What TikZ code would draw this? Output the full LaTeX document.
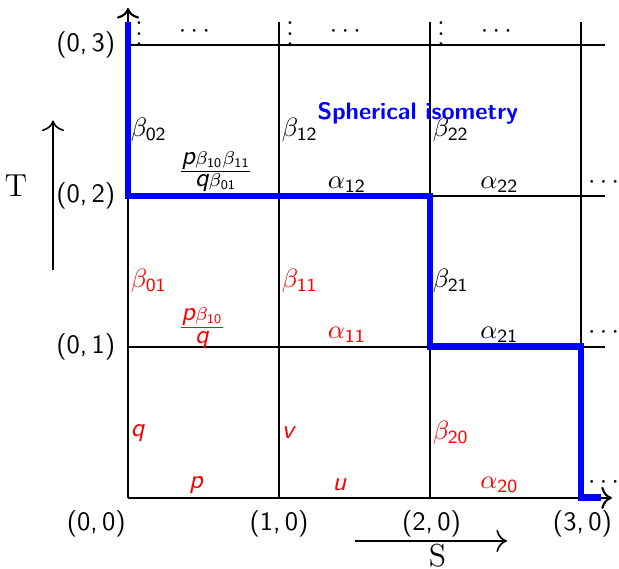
\documentclass[tikz,border=0pt]{standalone}
\usetikzlibrary{arrows.meta}
\newcommand{\sfi}[1]{\mbox{\sffamily\itshape #1}}
\begin{document}
\begin{tikzpicture}[x=2cm,y=2cm,
  gridline/.style={line width=0.8pt},
  spath/.style={blue, line width=2.6pt},
  lab/.style={anchor=west, inner sep=0pt},
  mid/.style={inner sep=1pt},
  rlab/.style={text=red},
  coord/.style={font=\sffamily, inner sep=1pt},
  ax/.style={line width=0.6pt, -{To[length=4pt]}}
]
\useasboundingbox (-0.848,-0.470) rectangle (3.252,3.298);
% grid coordinates
\foreach \i in {0,1,2,3}{
  \coordinate (b\i) at (\i,0);
  \coordinate (t\i) at (\i,3.15);
}
\foreach \j in {1,2,3}{
  \coordinate (l\j) at (0,\j);
  \coordinate (r\j) at (3.16,\j);
}
\coordinate (ytop) at (0,3.245);
\coordinate (xend) at (3.205,0);
% grid
\foreach \i in {1,2,3}{\draw[gridline] (b\i) -- (t\i);}
\foreach \j in {1,2,3}{\draw[gridline] (l\j) -- (r\j);}
% axes
\draw[gridline,-{To[length=4pt]}] (b0) -- (ytop);
\draw[gridline,-{To[length=4pt]}] (b0) -- (xend);
% dots
\foreach \i in {0,1,2}{
  \node[inner sep=0pt] (vd\i) at (\i+0.073,3.126) {$\vdots$};
  \node[inner sep=0pt] (hd\i) at (\i+0.44,3.09) {$\cdots$};
}
\foreach \j/\yy in {0/0.099,1/1.093,2/2.086}{
  \node[inner sep=0pt] (rd\j) at (3.15,\yy) {$\cdots$};
}
% blue path
\coordinate (p0) at (0,3.15);
\coordinate (p1) at (0,2);
\coordinate (p2) at (2,2);
\coordinate (p3) at (2,1);
\coordinate (p4) at (3,1);
\coordinate (p5) at (3,0);
\coordinate (p6) at (3.13,0);
\draw[spath] (p0) -- (p1) -- (p2) -- (p3) -- (p4) -- (p5) -- (p6);
% title
\node[text=blue, font=\small\sffamily\bfseries, inner sep=0pt] (title) at (1.92,2.55) {Spherical isometry};
% labels row 3
\node[lab] (b02) at (0.015,2.44) {$\beta_{\mathsf{02}}$};
\node[lab] (b12) at (1.015,2.44) {$\beta_{\mathsf{12}}$};
\node[lab] (b22) at (2.015,2.44) {$\beta_{\mathsf{22}}$};
\node[mid] (f2) at (0.58,2.16) {$\frac{\sfi{p}\beta_{\mathsf{10}}\beta_{\mathsf{11}}}{\sfi{q}\beta_{\mathsf{01}}}$};
\node[mid] (a12) at (1.45,2.075) {$\alpha_{\mathsf{12}}$};
\node[mid] (a22) at (2.46,2.075) {$\alpha_{\mathsf{22}}$};
% row 2
\node[lab,rlab] (b01) at (0.015,1.44) {$\beta_{\mathsf{01}}$};
\node[lab,rlab] (b11) at (1.015,1.44) {$\beta_{\mathsf{11}}$};
\node[lab] (b21) at (2.015,1.44) {$\beta_{\mathsf{21}}$};
\node[mid,rlab] (f1) at (0.49,1.125) {$\frac{\sfi{p}\beta_{\mathsf{10}}}{\sfi{q}}$};
\node[mid,rlab] (a11) at (1.45,1.08) {$\alpha_{\mathsf{11}}$};
\node[mid] (a21) at (2.46,1.08) {$\alpha_{\mathsf{21}}$};
% row 1
\node[lab,rlab] (q) at (0.015,0.43) {\sfi{q}};
\node[lab,rlab] (v) at (1.015,0.43) {\sfi{v}};
\node[lab,rlab] (b20) at (2.015,0.43) {$\beta_{\mathsf{20}}$};
\node[mid,rlab] (p) at (0.45,0.085) {\sfi{p}};
\node[mid,rlab] (u) at (1.4,0.085) {\sfi{u}};
\node[mid,rlab] (a20) at (2.46,0.085) {$\alpha_{\mathsf{20}}$};
% coordinate labels
\node[coord] (c03) at (-0.28,3.0) {(0,\,3)};
\node[coord] (c02) at (-0.28,2.0) {(0,\,2)};
\node[coord] (c01) at (-0.28,1.0) {(0,\,1)};
\node[coord] (c00) at (-0.21,-0.17) {(0,\,0)};
\node[coord] (c10) at (1.0,-0.17) {(1,\,0)};
\node[coord] (c20) at (2.01,-0.17) {(2,\,0)};
\node[coord] (c30) at (3.01,-0.17) {(3,\,0)};
% T and S axes
\coordinate (ta) at (-0.497,1.51);
\coordinate (tb) at (-0.497,2.50);
\draw[ax] (ta) -- (tb);
\node[inner sep=0pt] (T) at (-0.742,2.07) {\large T};
\coordinate (sa) at (1.503,-0.285);
\coordinate (sb) at (2.51,-0.285);
\draw[ax] (sa) -- (sb);
\node[inner sep=0pt] (S) at (2.05,-0.38) {\large S};
\end{tikzpicture}
\end{document}
